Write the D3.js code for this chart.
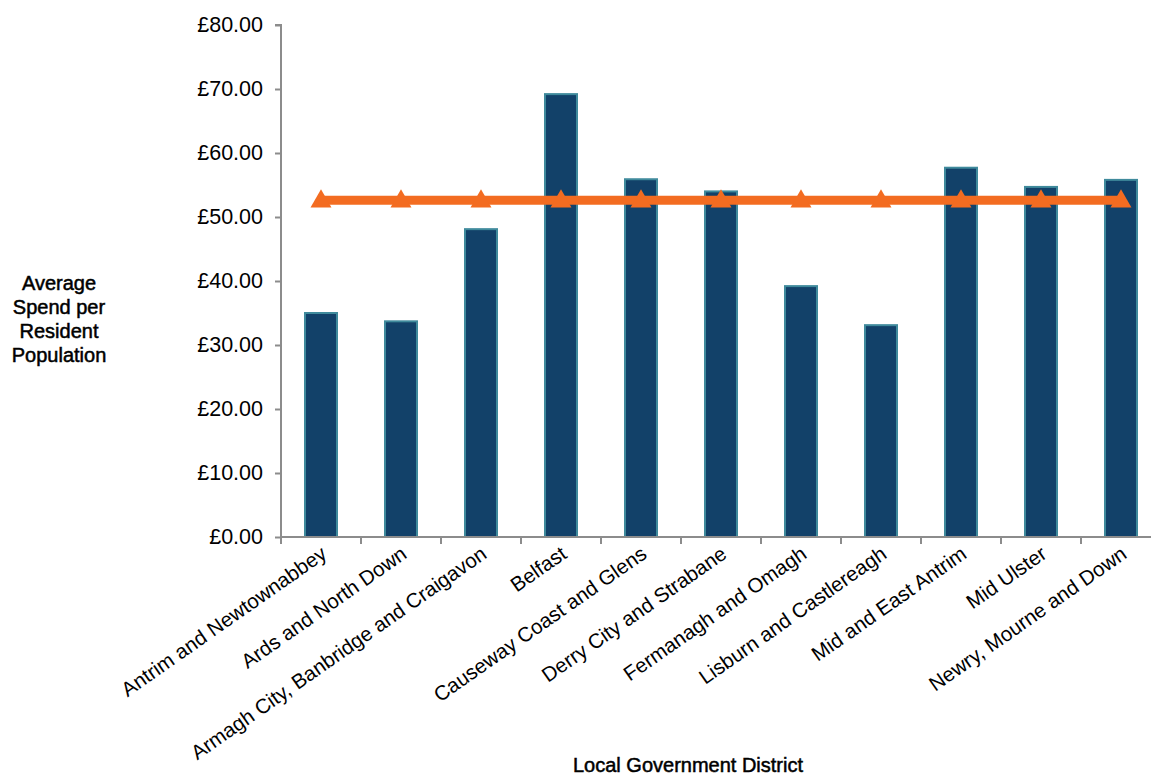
<!DOCTYPE html>
<html><head><meta charset="utf-8">
<script src="https://cdn.jsdelivr.net/npm/d3@7"></script>
<style>body{margin:0;background:#fff;overflow:hidden}svg{display:block}text{font-family:"Liberation Sans",Arial,sans-serif;fill:#000}</style>
</head><body>
<svg id="c" width="1151" height="776"></svg>
<script>
const categories = ["Antrim and Newtownabbey","Ards and North Down","Armagh City, Banbridge and Craigavon","Belfast","Causeway Coast and Glens","Derry City and Strabane","Fermanagh and Omagh","Lisburn and Castlereagh","Mid and East Antrim","Mid Ulster","Newry, Mourne and Down"];
const spend = [35.0, 33.7, 48.1, 69.2, 55.9, 54.0, 39.2, 33.1, 57.7, 54.7, 55.8];
const average = [52.6, 52.6, 52.6, 52.6, 52.6, 52.6, 52.6, 52.6, 52.6, 52.6, 52.6];
const yTicks = [0,10,20,30,40,50,60,70,80];

(function(){
const svg = d3.select("#c");
const mLeft = 281, mRight = 1161, mTop = 25, mBottom = 537;
const x = d3.scaleBand().domain(categories).range([mLeft, mRight]).paddingInner(0).paddingOuter(0);
const y = d3.scaleLinear().domain([0,80]).range([mBottom, mTop]);

// bars
const bw = 32;
svg.append("g").selectAll("rect").data(categories).join("rect")
  .attr("x", (d)=> x(d) + x.bandwidth()/2 - bw/2)
  .attr("y", (d,i)=> y(spend[i]))
  .attr("width", bw)
  .attr("height", (d,i)=> y(0) - y(spend[i]))
  .attr("fill", "#124169")
  .attr("stroke", "#3F8A9C")
  .attr("stroke-width", 2);

// y axis
const ya = svg.append("g").attr("transform", `translate(${mLeft},0)`)
  .call(d3.axisLeft(y).tickValues(yTicks).tickSize(6).tickPadding(12).tickFormat(d=>"£"+d.toFixed(2)));
ya.selectAll("path,line").attr("stroke","#8c8c8c").attr("stroke-width",2);
ya.select("path").attr("d", `M-6,${mTop}H0V${mBottom}`);
ya.selectAll("text").style("font-size","21.5px").attr("fill","#000").attr("font-family","Liberation Sans, Arial, sans-serif");

// x axis
const xa = svg.append("g").attr("transform", `translate(0,${mBottom})`)
  .call(d3.axisBottom(x).tickSize(0).tickFormat(""));
xa.select("path").attr("stroke","#8c8c8c").attr("stroke-width",2).attr("d", `M${mLeft},0H${mRight}`);
const tickPos = d3.range(categories.length+1).map(i => mLeft + i*x.bandwidth());
xa.selectAll(".tk").data(tickPos).join("line").attr("class","tk")
  .attr("x1", d=>d).attr("x2", d=>d).attr("y1",0).attr("y2",7)
  .attr("stroke","#8c8c8c").attr("stroke-width",2);

// x labels rotated
svg.append("g").selectAll("text").data(categories).join("text")
  .attr("transform", d => `translate(${x(d)+x.bandwidth()/2+3},${mBottom+14}) rotate(-35)`)
  .attr("text-anchor","end")
  .attr("dy","0.35em")
  .style("font-size","20.5px")
  .text(d=>d);

// average line
const line = d3.line().x((d,i)=> x(categories[i]) + x.bandwidth()/2).y(d=> y(d));
svg.append("path").datum(average).attr("d", line)
  .attr("fill","none").attr("stroke","#F36C21").attr("stroke-width",9);
const tri = d3.symbol().type(d3.symbolTriangle).size(190);
svg.append("g").selectAll("path").data(average).join("path")
  .attr("transform", (d,i)=> `translate(${x(categories[i]) + x.bandwidth()/2},${y(d)+1})`)
  .attr("d", tri)
  .attr("fill","#F36C21");

// axis titles
const yt = svg.append("text").attr("text-anchor","middle").style("font-size","20px")
  .attr("stroke","#000").attr("stroke-width",0.5);
["Average","Spend per","Resident","Population"].forEach((t,i)=>{
  yt.append("tspan").attr("x",59).attr("y",290 + i*24).text(t);
});
svg.append("text").attr("x",688).attr("y",772).attr("text-anchor","middle").style("font-size","20px")
  .attr("stroke","#000").attr("stroke-width",0.5).text("Local Government District");
})();
</script>
</body></html>
